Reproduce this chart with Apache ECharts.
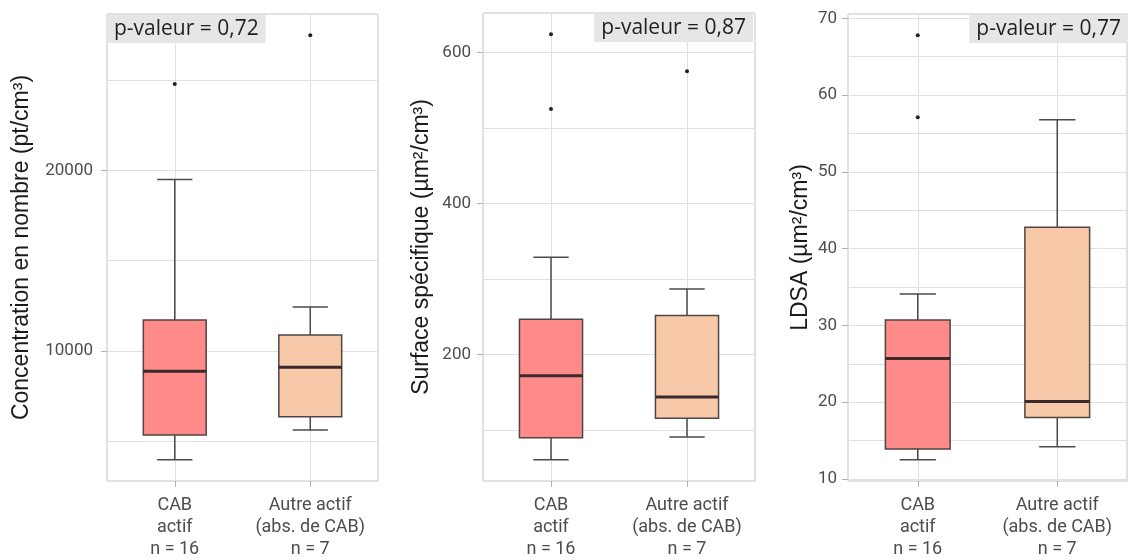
<!DOCTYPE html>
<html>
<head>
<meta charset="utf-8">
<script src="https://cdn.jsdelivr.net/npm/echarts@6/dist/echarts.min.js"></script>
<style>
  html, body { margin: 0; padding: 0; background: #fff; }
  #chart { width: 1129px; height: 560px; }
</style>
</head>
<body>
<div id="chart"></div>
<script>
// categories (x axis)
const categories = ['CAB\nactif\nn = 16', 'Autre actif\n(abs. de CAB)\nn = 7'];

// boxes : [moustache basse, Q1, médiane, Q3, moustache haute]
const concBoxes = [[3970, 5340, 8880, 11710, 19500], [5620, 6350, 9090, 10880, 12440]];
const concOutliers = [[0, 24790], [1, 27490]];
const concTicks = [10000, 20000];

const surfBoxes = [[61, 90, 172, 247, 329], [91, 116, 144, 252, 287]];
const surfOutliers = [[0, 624], [0, 525], [1, 575]];
const surfTicks = [200, 400, 600];

const ldsaBoxes = [[12.5, 13.9, 25.7, 30.7, 34.1], [14.2, 18.0, 20.1, 42.8, 56.8]];
const ldsaOutliers = [[0, 67.8], [0, 57.1]];
const ldsaTicks = [10, 20, 30, 40, 50, 60, 70];

const pValues = ['p-valeur = 0,72', 'p-valeur = 0,87', 'p-valeur = 0,77'];
const yTitles = ['Concentration en nombre (pt/cm³)', 'Surface spécifique (µm²/cm³)', 'LDSA (µm²/cm³)'];
const minorSteps = [5000, 100, 5];

const boxColors = ['#ff8a8a', '#f8c9a8'];

const panels = [
  { boxes: concBoxes, outliers: concOutliers, ticks: concTicks, grid: { left: 107, top: 14, width: 271, height: 470 }, nameGap: 74, labelMargin: 14 },
  { boxes: surfBoxes, outliers: surfOutliers, ticks: surfTicks, grid: { left: 483, top: 13, width: 272, height: 471 }, nameGap: 50, labelMargin: 12 },
  { boxes: ldsaBoxes, outliers: ldsaOutliers, ticks: ldsaTicks, grid: { left: 848, top: 14, width: 279, height: 469 }, nameGap: 36, labelMargin: 11 }
];
const pBoxes = [
  { left: 107, top: 15 },
  { right: 376, top: 14 },
  { right: 1, top: 15 }
];

// échelle ggplot : étendue des données + 5 %
function extentOf(p) {
  const vals = [];
  p.boxes.forEach(b => vals.push(...b));
  p.outliers.forEach(o => vals.push(o[1]));
  const lo = Math.min(...vals), hi = Math.max(...vals);
  const pad = (hi - lo) * 0.05;
  return [lo - pad, hi + pad];
}

function renderBox(params, api) {
  const x = api.value(0);
  const lo = api.coord([x, api.value(1)]);
  const q1 = api.coord([x, api.value(2)]);
  const med = api.coord([x, api.value(3)]);
  const q3 = api.coord([x, api.value(4)]);
  const hi = api.coord([x, api.value(5)]);
  const band = api.size([1, 0])[0];
  const half = band * 0.232, cap = band * 0.13;
  const cx = lo[0];
  const line = { stroke: '#4a4a4a', lineWidth: 1.5 };
  return {
    type: 'group',
    children: [
      { type: 'line', shape: { x1: cx, y1: lo[1], x2: cx, y2: q1[1] }, style: line },
      { type: 'line', shape: { x1: cx, y1: q3[1], x2: cx, y2: hi[1] }, style: line },
      { type: 'line', shape: { x1: cx - cap, y1: lo[1], x2: cx + cap, y2: lo[1] }, style: line },
      { type: 'line', shape: { x1: cx - cap, y1: hi[1], x2: cx + cap, y2: hi[1] }, style: line },
      { type: 'rect', shape: { x: cx - half, y: q3[1], width: half * 2, height: q1[1] - q3[1] },
        style: { fill: boxColors[params.dataIndex], stroke: '#4f4545', lineWidth: 1.5 } },
      { type: 'line', shape: { x1: cx - half, y1: med[1], x2: cx + half, y2: med[1] },
        style: { stroke: '#3a2a2a', lineWidth: 3 } }
    ]
  };
}

const grids = [], xAxes = [], yAxes = [], series = [], titles = [];

panels.forEach((p, g) => {
  const ext = extentOf(p);
  grids.push(Object.assign({ show: true, borderColor: '#c4c4c4', borderWidth: 1, backgroundColor: '#fff' }, p.grid));

  // axe catégoriel (libellés + graduations)
  xAxes.push({
    type: 'category', gridIndex: g, data: categories, boundaryGap: true, position: 'bottom',
    axisLine: { show: false },
    axisTick: { show: true, alignWithLabel: true, length: 6, lineStyle: { color: '#b3b3b3' } },
    axisLabel: { interval: 0, color: '#4d4d4d', fontSize: 18, lineHeight: 22, margin: 13, fontFamily: 'Roboto' },
    splitLine: { show: false }
  });
  // axe invisible pour les lignes verticales du quadrillage
  xAxes.push({
    type: 'value', gridIndex: g, min: -0.5, max: 1.5, minInterval: 1, maxInterval: 1, position: 'bottom',
    axisLine: { show: false }, axisTick: { show: false }, axisLabel: { show: false },
    splitLine: { show: true, lineStyle: { color: '#e0e0e0', width: 1 } }
  });

  // axe y secondaire : quadrillage mineur + majeur
  yAxes.push({
    type: 'value', gridIndex: g, min: ext[0], max: ext[1], position: 'left',
    minInterval: minorSteps[g], maxInterval: minorSteps[g],
    axisLine: { show: false }, axisTick: { show: false }, axisLabel: { show: false },
    splitLine: { show: true, lineStyle: { color: '#e0e0e0', width: 1 } }
  });
  // axe y principal : libellés
  yAxes.push({
    type: 'value', gridIndex: g, min: ext[0], max: ext[1], position: 'left',
    name: yTitles[g], nameLocation: 'middle', nameGap: p.nameGap, nameRotate: 90,
    nameTextStyle: { color: '#1a1a1a', fontSize: 23, fontFamily: 'Liberation Sans' },
    axisLine: { show: false },
    axisTick: { show: true, length: 6, customValues: p.ticks, lineStyle: { color: '#b3b3b3' } },
    axisLabel: {
      color: '#4d4d4d', fontSize: 17, fontFamily: 'Roboto', margin: p.labelMargin,
      customValues: p.ticks, formatter: v => String(v)
    },
    splitLine: { show: false }
  });

  series.push({
    type: 'custom', xAxisIndex: 2 * g, yAxisIndex: 2 * g + 1,
    renderItem: renderBox,
    encode: { x: 0, y: [1, 2, 3, 4, 5] },
    data: p.boxes.map((b, i) => [i].concat(b)),
    z: 3
  });
  series.push({
    type: 'scatter', xAxisIndex: 2 * g, yAxisIndex: 2 * g + 1,
    symbolSize: 4, itemStyle: { color: '#222', opacity: 1 },
    data: p.outliers, z: 4
  });

  titles.push(Object.assign({
    text: pValues[g],
    backgroundColor: '#e6e6e6',
    padding: [1, 7, 1, 7],
    textStyle: { color: '#1f1f1f', fontSize: 21, lineHeight: 26, fontWeight: 'normal', fontFamily: 'Open Sans' }
  }, pBoxes[g]));
});

const chart = echarts.init(document.getElementById('chart'));
chart.setOption({
  animation: false,
  backgroundColor: '#fff',
  title: titles,
  grid: grids,
  xAxis: xAxes,
  yAxis: yAxes,
  series: series
});
</script>
</body>
</html>
